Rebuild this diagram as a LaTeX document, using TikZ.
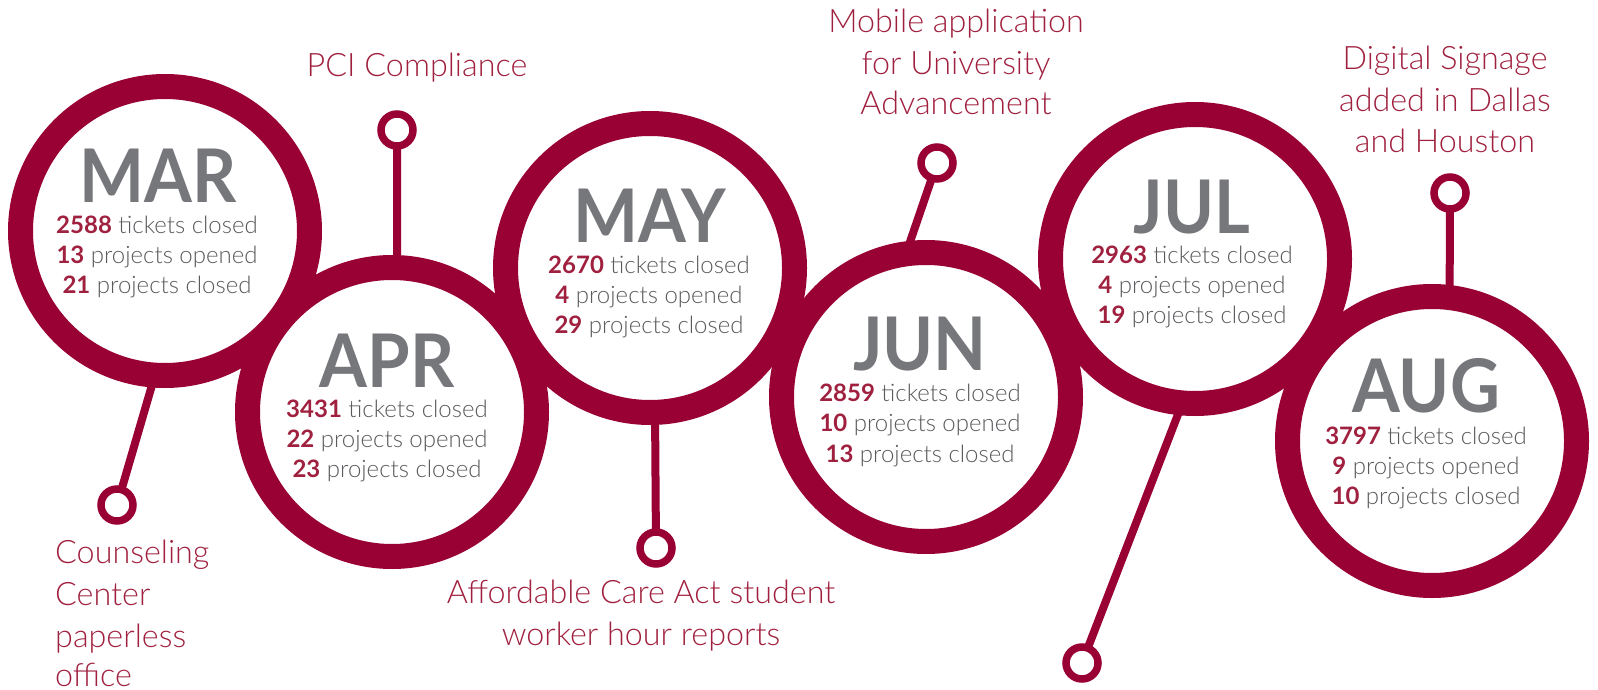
\documentclass[tikz,border=0pt]{standalone}
\usepackage{fontspec}
\setmainfont{Lato}[UprightFont={* Light}, BoldFont={* Bold}]
\definecolor{crimson}{HTML}{990033}
\definecolor{accent}{HTML}{A0213F}
\definecolor{monthgray}{HTML}{76777B}
\definecolor{bodygray}{HTML}{5A5A5E}
\newcommand{\num}[1]{\textbf{\color{accent}#1}}
\newcommand{\mon}[1]{\scalebox{0.93}[1]{#1}}
\begin{document}
\begin{tikzpicture}[x=1pt,y=-1pt,
  monthring/.style={circle, draw=crimson, line width=25pt, fill=white,
    minimum size=289pt, inner sep=0pt, outer sep=0pt},
  pinring/.style={circle, draw=crimson, line width=7.5pt, fill=white,
    minimum size=32pt, inner sep=0pt, outer sep=0pt},
  stem/.style={draw=crimson, line width=8pt},
  mname/.style={anchor=base, inner sep=0pt, text=monthgray,
    font=\fontsize{74}{74}\selectfont\bfseries},
  stat/.style={anchor=base, inner sep=0pt, text=bodygray,
    font=\fontsize{24}{24}\selectfont},
  note/.style={anchor=base, inner sep=0pt, text=accent,
    font=\fontsize{32.3}{32.3}\selectfont},
  noteleft/.style={note, anchor=base west},
]
\useasboundingbox (0,0) rectangle (1598,690);

% month rings, left to right
\node[monthring] (mar) at (165,231) {};
\node[monthring] (apr) at (392,412) {};
\node[monthring] (may) at (650,268) {};
\node[monthring] (jun) at (926,397) {};
\node[monthring] (jul) at (1195,259) {};
\node[monthring] (aug) at (1432,441) {};

% pins with their stems
\node[pinring] (pmar) at (117,505) {};
\node[pinring] (papr) at (397,130) {};
\node[pinring] (pmay) at (656,548) {};
\node[pinring] (pjun) at (937,163) {};
\node[pinring] (pjul) at (1082,663) {};
\node[pinring] (paug) at (1450,193) {};
\draw[stem] (pmar) -- (mar.-94.5);
\draw[stem] (papr) -- (apr.88);
\draw[stem] (pmay) -- (may.-88);
\draw[stem] (pjun) -- (jun.98);
\draw[stem] (pjul) -- (jul.-95);
\draw[stem] (paug) -- (aug.83);

% month figures
\node[mname] (marT) at (158,202) {\mon{MAR}};
\node[stat] (mar1) at (157,233) {\num{2588} tickets closed};
\node[stat] (mar2) at (157,263) {\num{13} projects opened};
\node[stat] (mar3) at (157,293) {\num{21} projects closed};

\node[mname] (aprT) at (387,387) {\mon{APR}};
\node[stat] (apr1) at (387,417) {\num{3431} tickets closed};
\node[stat] (apr2) at (387,447) {\num{22} projects opened};
\node[stat] (apr3) at (387,477) {\num{23} projects closed};

\node[mname] (mayT) at (650,242) {\mon{MAY}};
\node[stat] (may1) at (649,273) {\num{2670} tickets closed};
\node[stat] (may2) at (649,303) {\num{4} projects opened};
\node[stat] (may3) at (649,333) {\num{29} projects closed};

\node[mname] (junT) at (920,370) {\mon{JUN}};
\node[stat] (jun1) at (920,401) {\num{2859} tickets closed};
\node[stat] (jun2) at (920,431) {\num{10} projects opened};
\node[stat] (jun3) at (920,462) {\num{13} projects closed};

\node[mname] (julT) at (1192,233) {\mon{JUL}};
\node[stat] (jul1) at (1192,263) {\num{2963} tickets closed};
\node[stat] (jul2) at (1192,293) {\num{4} projects opened};
\node[stat] (jul3) at (1192,323) {\num{19} projects closed};

\node[mname] (augT) at (1426,412) {\mon{AUG}};
\node[stat] (aug1) at (1426,444) {\num{3797} tickets closed};
\node[stat] (aug2) at (1426,474) {\num{9} projects opened};
\node[stat] (aug3) at (1426,504) {\num{10} projects closed};

% milestone notes
\node[noteleft] (nmar1) at (55,563) {Counseling};
\node[noteleft] (nmar2) at (55,605) {Center};
\node[noteleft] (nmar3) at (55,647) {paperless};
\node[noteleft] (nmar4) at (55,686) {office};

\node[note] (napr) at (417,77) {PCI Compliance};

\node[note] (nmay1) at (641,603) {Affordable Care Act student};
\node[note] (nmay2) at (641,645) {worker hour reports};

\node[note] (njun1) at (956,33) {Mobile application};
\node[note] (njun2) at (956,75) {for University};
\node[note] (njun3) at (956,115) {Advancement};

\node[note] (naug1) at (1445,70) {Digital Signage};
\node[note] (naug2) at (1445,112) {added in Dallas};
\node[note] (naug3) at (1445,153) {and Houston};
\end{tikzpicture}
\end{document}
